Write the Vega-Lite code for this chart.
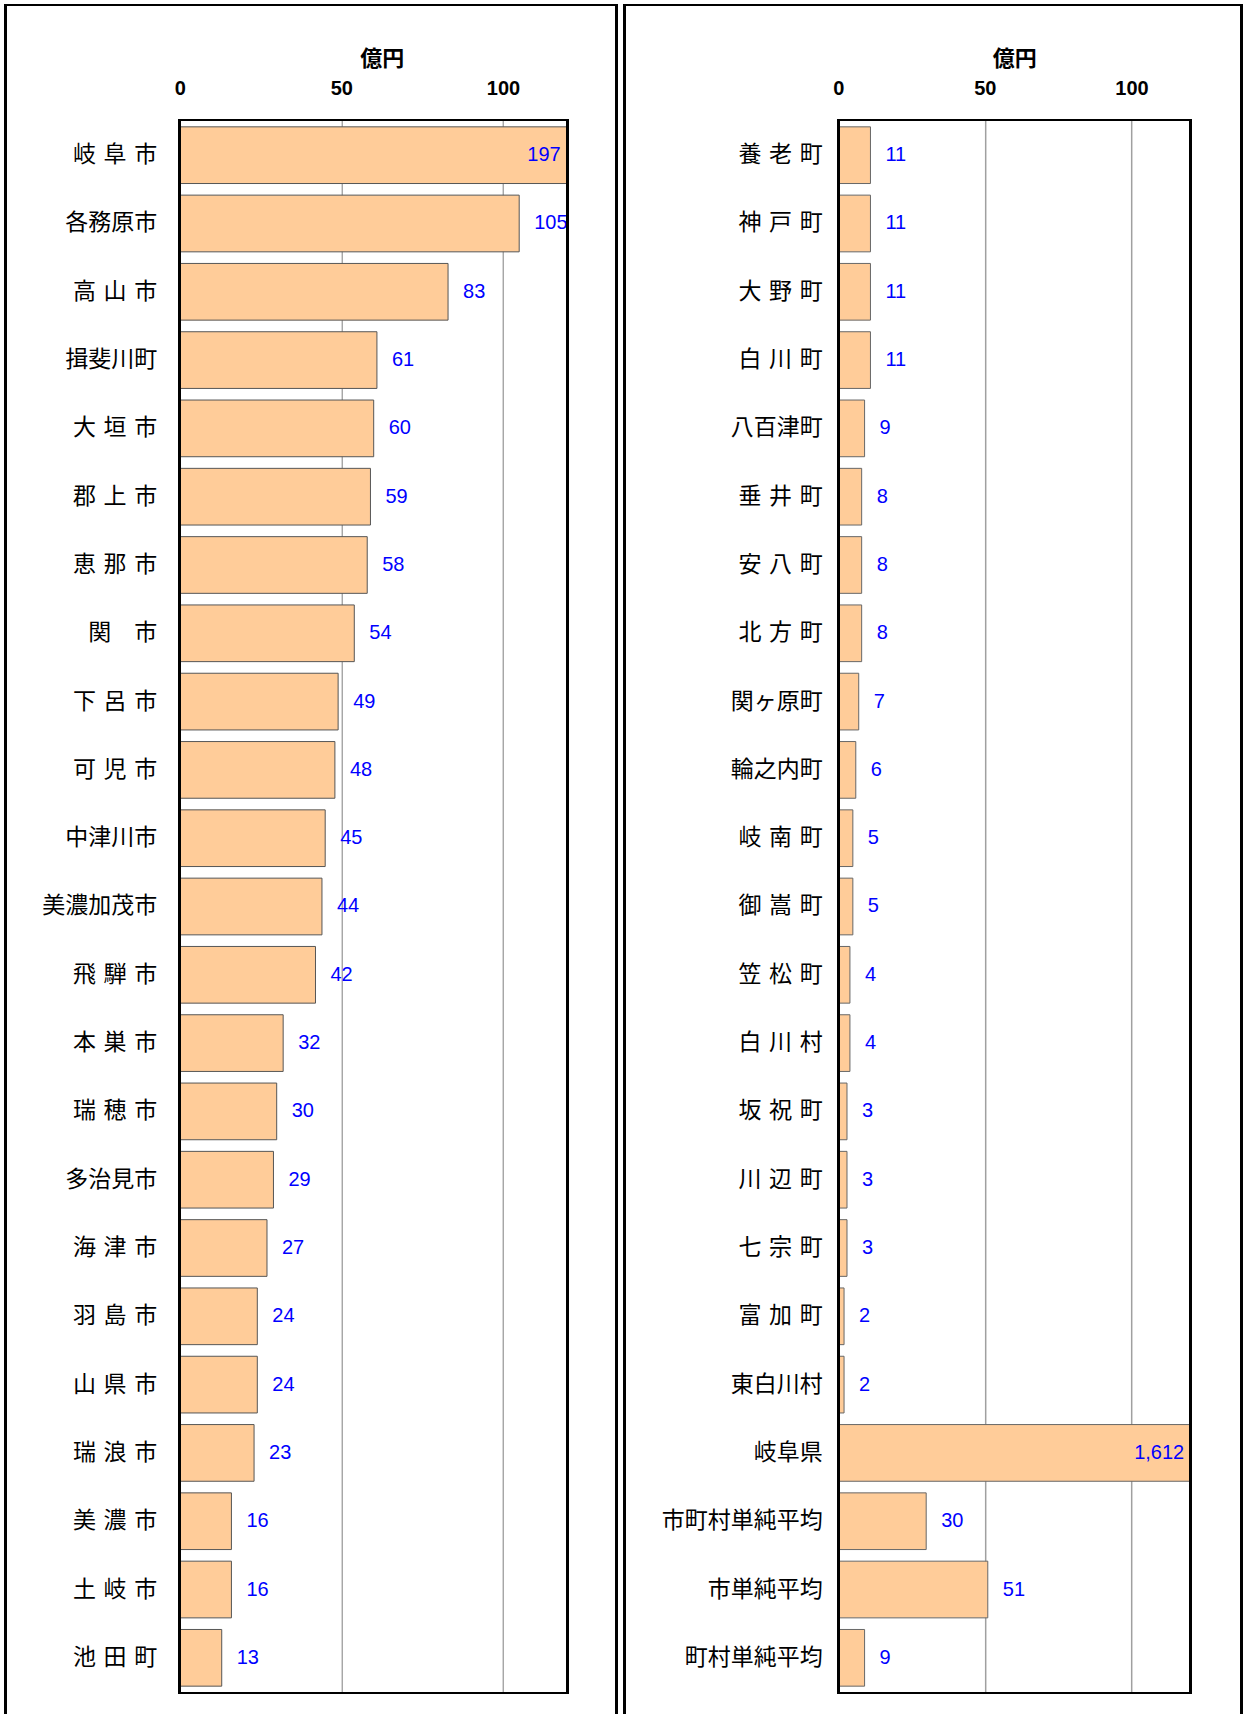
{
  "$schema": "https://vega.github.io/schema/vega-lite/v6.json",
  "padding": {"left": 3.7, "top": 3, "right": 0, "bottom": 0},
  "background": "white",
  "config": {"view": {"stroke": null}},
  "spacing": 4.5,
  "datasets": {
    "left": [
      {"name": "岐\u2004阜\u2004市", "value": 197},
      {"name": "各務原市", "value": 105},
      {"name": "高\u2004山\u2004市", "value": 83},
      {"name": "揖斐川町", "value": 61},
      {"name": "大\u2004垣\u2004市", "value": 60},
      {"name": "郡\u2004上\u2004市", "value": 59},
      {"name": "恵\u2004那\u2004市", "value": 58},
      {"name": "関\u2003市", "value": 54},
      {"name": "下\u2004呂\u2004市", "value": 49},
      {"name": "可\u2004児\u2004市", "value": 48},
      {"name": "中津川市", "value": 45},
      {"name": "美濃加茂市", "value": 44},
      {"name": "飛\u2004騨\u2004市", "value": 42},
      {"name": "本\u2004巣\u2004市", "value": 32},
      {"name": "瑞\u2004穂\u2004市", "value": 30},
      {"name": "多治見市", "value": 29},
      {"name": "海\u2004津\u2004市", "value": 27},
      {"name": "羽\u2004島\u2004市", "value": 24},
      {"name": "山\u2004県\u2004市", "value": 24},
      {"name": "瑞\u2004浪\u2004市", "value": 23},
      {"name": "美\u2004濃\u2004市", "value": 16},
      {"name": "土\u2004岐\u2004市", "value": 16},
      {"name": "池\u2004田\u2004町", "value": 13}
    ],
    "right": [
      {"name": "養\u2004老\u2004町", "value": 11},
      {"name": "神\u2004戸\u2004町", "value": 11},
      {"name": "大\u2004野\u2004町", "value": 11},
      {"name": "白\u2004川\u2004町", "value": 11},
      {"name": "八百津町", "value": 9},
      {"name": "垂\u2004井\u2004町", "value": 8},
      {"name": "安\u2004八\u2004町", "value": 8},
      {"name": "北\u2004方\u2004町", "value": 8},
      {"name": "関ヶ原町", "value": 7},
      {"name": "輪之内町", "value": 6},
      {"name": "岐\u2004南\u2004町", "value": 5},
      {"name": "御\u2004嵩\u2004町", "value": 5},
      {"name": "笠\u2004松\u2004町", "value": 4},
      {"name": "白\u2004川\u2004村", "value": 4},
      {"name": "坂\u2004祝\u2004町", "value": 3},
      {"name": "川\u2004辺\u2004町", "value": 3},
      {"name": "七\u2004宗\u2004町", "value": 3},
      {"name": "富\u2004加\u2004町", "value": 2},
      {"name": "東白川村", "value": 2},
      {"name": "岐阜県", "value": 1612},
      {"name": "市町村単純平均", "value": 30},
      {"name": "市単純平均", "value": 51},
      {"name": "町村単純平均", "value": 9}
    ]
  },
  "hconcat": [
    {
      "width": 388,
      "height": 1573,
      "data": {"name": "left"},
      "resolve": {"scale": {"x": "independent", "y": "independent"}},
      "layer": [
        {
          "layer": [
            {
              "mark": {"type": "bar", "fill": "#FFCC99", "stroke": "#555555", "strokeWidth": 1},
              "encoding": {
                "y": {"field": "name", "type": "nominal", "sort": null,
                      "scale": {"paddingInner": 0.17, "paddingOuter": 0.1},
                      "axis": {"title": null, "ticks": false, "domain": false, "labelFont": "Noto Sans CJK JP", "labelFontSize": 23, "labelColor": "black", "labelPadding": 23}},
                "x": {"field": "value", "type": "quantitative",
                      "scale": {"domain": [0, 120], "clamp": true, "nice": false},
                      "axis": {"orient": "top", "values": [0, 50, 100], "title": "億円", "titleX": 202, "titleFont": "Noto Sans CJK JP", "titleFontWeight": "bold", "titleFontSize": 22, "titlePadding": 8, "titleColor": "black", "labelFont": "Liberation Sans", "labelFontWeight": "bold", "labelFontSize": 20, "labelColor": "black", "labelPadding": 22, "labelFlush": false, "ticks": false, "domain": false, "grid": true, "gridColor": "#808080", "gridWidth": 1}}
              }
            },
            {
              "mark": {"type": "text", "baseline": "middle", "color": "#0000FF", "font": "Liberation Sans", "fontSize": 20,
                       "align": {"expr": "datum.value > 120 ? 'right' : 'left'"},
                       "dx": {"expr": "datum.value > 120 ? -7 : 15"}},
              "encoding": {
                "y": {"field": "name", "type": "nominal", "sort": null},
                "x": {"field": "value", "type": "quantitative"},
                "text": {"field": "value", "type": "quantitative", "format": ","}
              }
            }
          ]
        },
        {
          "layer": [
            {
              "mark": {"type": "rect", "filled": false, "stroke": "black", "strokeWidth": 2},
              "encoding": {
                "x": {"datum": 0, "type": "quantitative", "scale": {"domain": [0, 120], "nice": false}, "axis": null},
                "x2": {"datum": 120},
                "y": {"datum": 0, "type": "quantitative", "scale": {"domain": [0, 1], "nice": false}, "axis": null},
                "y2": {"datum": 1}
              }
            },
            {
              "mark": {"type": "rule", "stroke": "black", "strokeWidth": 2, "strokeCap": "square"},
              "encoding": {"x": {"datum": -53.9, "type": "quantitative"}, "y": {"datum": 1.07311, "type": "quantitative"}, "y2": {"datum": -0.012715}}
            },
            {
              "mark": {"type": "rule", "stroke": "black", "strokeWidth": 2, "strokeCap": "square"},
              "encoding": {"x": {"datum": 135.15, "type": "quantitative"}, "y": {"datum": 1.07311, "type": "quantitative"}, "y2": {"datum": -0.012715}}
            },
            {
              "mark": {"type": "rule", "stroke": "black", "strokeWidth": 2, "strokeCap": "square"},
              "encoding": {"x": {"datum": -53.9, "type": "quantitative"}, "x2": {"datum": 135.15}, "y": {"datum": 1.07311, "type": "quantitative"}}
            }
          ]
        }
      ]
    },
    {
      "width": 352,
      "height": 1573,
      "data": {"name": "right"},
      "resolve": {"scale": {"x": "independent", "y": "independent"}},
      "layer": [
        {
          "layer": [
            {
              "mark": {"type": "bar", "fill": "#FFCC99", "stroke": "#666666", "strokeWidth": 1},
              "encoding": {
                "y": {"field": "name", "type": "nominal", "sort": null,
                      "scale": {"paddingInner": 0.17, "paddingOuter": 0.1},
                      "axis": {"title": null, "ticks": false, "domain": false, "labelFont": "Noto Sans CJK JP", "labelFontSize": 23, "labelColor": "black", "labelPadding": 16}},
                "x": {"field": "value", "type": "quantitative",
                      "scale": {"domain": [0, 120], "clamp": true, "nice": false},
                      "axis": {"orient": "top", "values": [0, 50, 100], "title": "億円", "titleFont": "Noto Sans CJK JP", "titleFontWeight": "bold", "titleFontSize": 22, "titlePadding": 8, "titleColor": "black", "labelFont": "Liberation Sans", "labelFontWeight": "bold", "labelFontSize": 20, "labelColor": "black", "labelPadding": 22, "labelFlush": false, "ticks": false, "domain": false, "grid": true, "gridColor": "#a0a0a0", "gridWidth": 1.5}}
              }
            },
            {
              "mark": {"type": "text", "baseline": "middle", "color": "#0000FF", "font": "Liberation Sans", "fontSize": 20,
                       "align": {"expr": "datum.value > 120 ? 'right' : 'left'"},
                       "dx": {"expr": "datum.value > 120 ? -6 : 15"}},
              "encoding": {
                "y": {"field": "name", "type": "nominal", "sort": null},
                "x": {"field": "value", "type": "quantitative"},
                "text": {"field": "value", "type": "quantitative", "format": ","}
              }
            }
          ]
        },
        {
          "layer": [
            {
              "mark": {"type": "rect", "filled": false, "stroke": "black", "strokeWidth": 2},
              "encoding": {
                "x": {"datum": 0, "type": "quantitative", "scale": {"domain": [0, 120], "nice": false}, "axis": null},
                "x2": {"datum": 120},
                "y": {"datum": 0, "type": "quantitative", "scale": {"domain": [0, 1], "nice": false}, "axis": null},
                "y2": {"datum": 1}
              }
            },
            {
              "mark": {"type": "rule", "stroke": "black", "strokeWidth": 2, "strokeCap": "square"},
              "encoding": {"x": {"datum": -72.78, "type": "quantitative"}, "y": {"datum": 1.07311, "type": "quantitative"}, "y2": {"datum": -0.012715}}
            },
            {
              "mark": {"type": "rule", "stroke": "black", "strokeWidth": 2, "strokeCap": "square"},
              "encoding": {"x": {"datum": 137.39, "type": "quantitative"}, "y": {"datum": 1.07311, "type": "quantitative"}, "y2": {"datum": -0.012715}}
            },
            {
              "mark": {"type": "rule", "stroke": "black", "strokeWidth": 2, "strokeCap": "square"},
              "encoding": {"x": {"datum": -72.78, "type": "quantitative"}, "x2": {"datum": 137.39}, "y": {"datum": 1.07311, "type": "quantitative"}}
            }
          ]
        }
      ]
    }
  ]
}
